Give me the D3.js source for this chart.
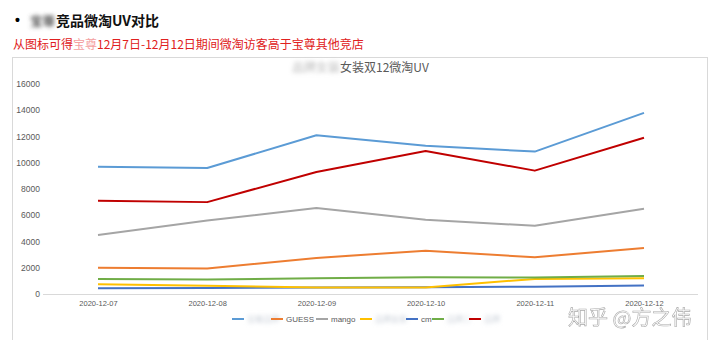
<!DOCTYPE html>
<html><head><meta charset="utf-8">
<script src="https://cdn.jsdelivr.net/npm/d3@7"></script>
<style>
html,body{margin:0;padding:0;background:#fff;}
svg{display:block;font-family:"Noto Sans CJK SC","Noto Sans",sans-serif;}
</style></head>
<body><svg id="c" width="720" height="340"></svg>
<script>
const dates = ["2020-12-07","2020-12-08","2020-12-09","2020-12-10","2020-12-11","2020-12-12"];
const seriesNames = ["宝尊品牌","GUESS","mango","品牌女装","cm","品牌二","品牌"];
const blurredName = [true,false,false,true,false,true,true];
const colors = ["#5b9bd5","#ed7d31","#a5a5a5","#ffc000","#4472c4","#70ad47","#c00000"];
const vBrand  = [9700, 9600, 12100, 11300, 10850, 13800];
const vGuess  = [2000, 1950, 2750, 3300, 2800, 3500];
const vMango  = [4500, 5600, 6550, 5650, 5200, 6500];
const vYellow = [750, 620, 500, 500, 1150, 1200];
const vCm     = [430, 450, 500, 520, 560, 640];
const vGreen  = [1150, 1100, 1200, 1280, 1250, 1380];
const vRed    = [7100, 7000, 9300, 10900, 9400, 11900];
const seriesValues = [vBrand, vGuess, vMango, vYellow, vCm, vGreen, vRed];
const yTicks = [0,2000,4000,6000,8000,10000,12000,14000,16000];

const svg = d3.select("#c");
const defs = svg.append("defs");
defs.append("filter").attr("id","blur").attr("x","-20%").attr("y","-50%").attr("width","140%").attr("height","200%")
  .append("feGaussianBlur").attr("stdDeviation",2.2);

// header
svg.append("text").attr("x",15).attr("y",25).attr("font-size",14).attr("font-weight","bold")
  .attr("font-family","Liberation Sans, Arial, sans-serif").text("•");
svg.append("text").attr("x",30).attr("y",26).attr("font-size",12.5).attr("font-weight","bold").attr("fill","#555").attr("filter","url(#blur)").text("宝尊");
svg.append("text").attr("x",56).attr("y",26).attr("font-size",14).attr("font-weight","bold").attr("fill","#111").text("竞品微淘UV对比");

const red = svg.append("text").attr("x",13).attr("y",49).attr("font-size",12).attr("fill","#e02020");
red.append("tspan").text("从图标可得");
red.append("tspan").attr("fill","#f4a0a0").text("宝尊");
red.append("tspan").text("12月7日-12月12日期间微淘访客高于宝尊其他竞店");

// chart frame
svg.append("rect").attr("x",12.5).attr("y",57.5).attr("width",695).attr("height",290)
  .attr("fill","#fff").attr("stroke","#d9d9d9");

// chart title
const t = svg.append("g");
t.append("text").attr("x",292).attr("y",72).attr("font-size",12).attr("fill","#bbb").attr("filter","url(#blur)").text("品牌女装");
t.append("text").attr("x",340).attr("y",72).attr("font-size",12).attr("fill","#595959").text("女装双12微淘UV");

const x = d3.scalePoint().domain(dates).range([98,644]);
const y = d3.scaleLinear().domain([0,16000]).range([294,84]);

// y axis labels
const ya = svg.append("g").attr("transform","translate(40,0)")
  .call(d3.axisLeft(y).tickValues(yTicks).tickSize(0).tickPadding(0).tickFormat(d3.format("d")));
ya.select(".domain").remove();
ya.selectAll("text").attr("font-size",8.5).attr("fill","#595959").attr("font-family","Liberation Sans, Arial, sans-serif");

// baseline
svg.append("line").attr("x1",43).attr("x2",698).attr("y1",y(0)+0.5).attr("y2",y(0)+0.5).attr("stroke","#d9d9d9");

// x axis labels
const xa = svg.append("g").attr("transform","translate(0,"+(y(0)+2)+")")
  .call(d3.axisBottom(x).tickSize(0).tickPadding(5));
xa.select(".domain").remove();
xa.selectAll("text").attr("font-size",7.5).attr("fill","#595959").attr("font-family","Liberation Sans, Arial, sans-serif");

// lines
const line = d3.line().x((d,i)=>x(dates[i])).y(d=>y(d));
const drawOrder = [4,3,5,1,2,0,6];
drawOrder.forEach(k=>{
  svg.append("path").datum(seriesValues[k]).attr("d",line)
    .attr("fill","none").attr("stroke",colors[k]).attr("stroke-width",2).attr("stroke-linejoin","round");
});

// legend
const legendX = [232,271,316,360,406,432,469];
const legendY = 319;
seriesNames.forEach((n,i)=>{
  const g = svg.append("g").attr("transform",`translate(${legendX[i]},${legendY})`);
  g.append("line").attr("x1",0).attr("x2",12).attr("y1",0).attr("y2",0).attr("stroke",colors[i]).attr("stroke-width",2);
  if(blurredName[i]){
    g.append("text").attr("x",15).attr("y",3).attr("font-size",8).attr("fill","#c8cfd8").attr("filter","url(#blur)").text(n);
  } else {
    g.append("text").attr("x",15).attr("y",3).attr("font-size",8).attr("fill","#595959").attr("font-family","Liberation Sans, Arial, sans-serif").text(n);
  }
});

// watermark
svg.append("text").attr("x",568).attr("y",325).attr("font-size",20).attr("fill","#fff").attr("stroke","#999").attr("stroke-width",0.6).attr("opacity",0.85).text("知乎 @方之伟");
</script></body></html>
